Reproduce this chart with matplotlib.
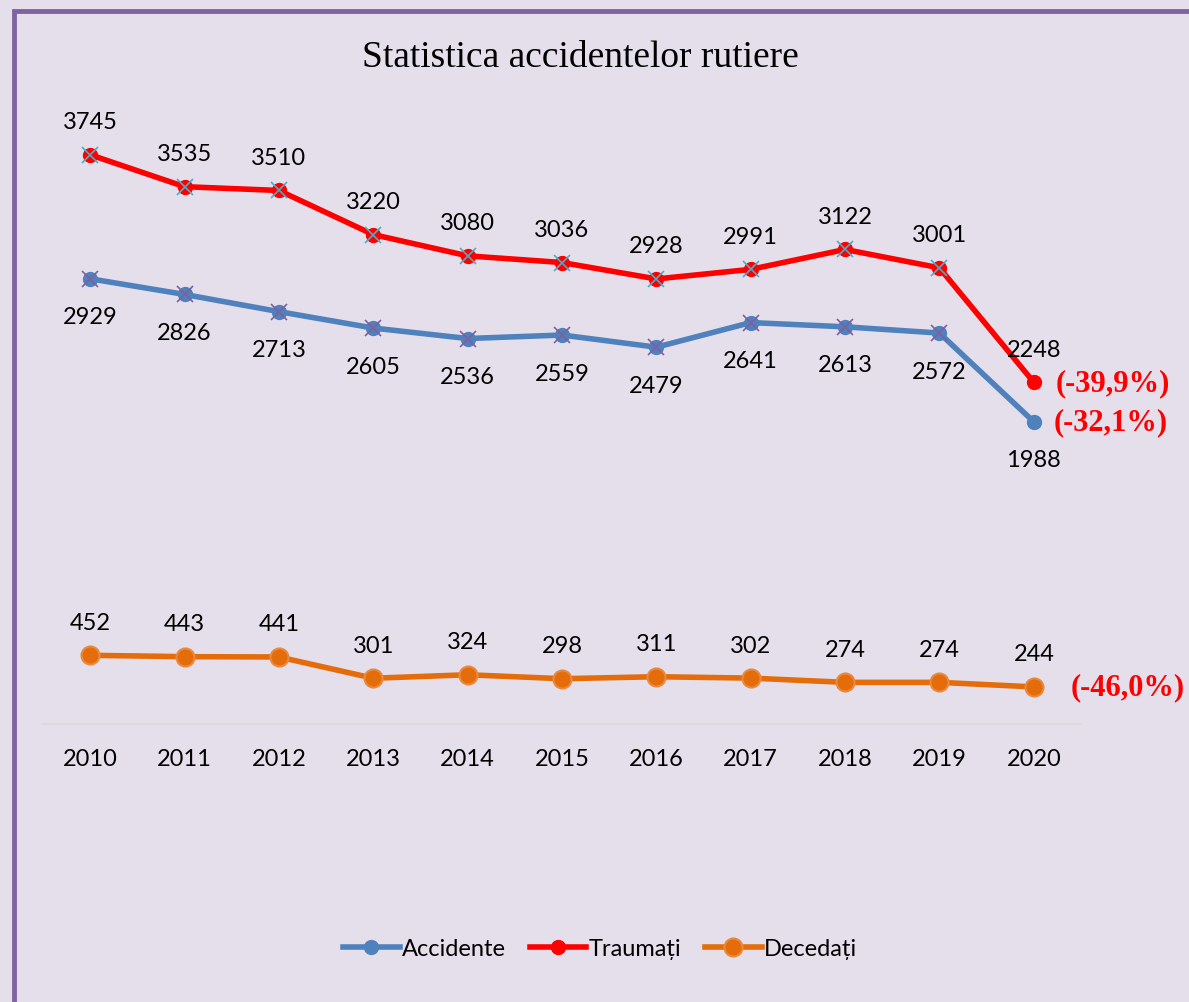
import matplotlib.pyplot as plt
from matplotlib.patches import Rectangle

plt.rcParams["font.family"] = ["Lato", "DejaVu Sans"]

years = ["2010", "2011", "2012", "2013", "2014", "2015", "2016", "2017", "2018", "2019", "2020"]
accidente = [2929, 2826, 2713, 2605, 2536, 2559, 2479, 2641, 2613, 2572, 1988]
traumati = [3745, 3535, 3510, 3220, 3080, 3036, 2928, 2991, 3122, 3001, 2248]
decedati = [452, 443, 441, 301, 324, 298, 311, 302, 274, 274, 244]
changes = {"Accidente": "(-32,1%)", "Traumați": "(-39,9%)", "Decedați": "(-46,0%)"}

BG = "#E5DFEC"
BLUE = "#4F81BD"
RED = "#FF0000"
ORANGE = "#E46C0A"

W, H = 1189, 1003
fig = plt.figure(figsize=(W / 100, H / 100), dpi=100, facecolor=BG)
ax = fig.add_axes([43 / W, 1 - 725 / H, (1081 - 43) / W, (725 - 117) / H])
ax.set_facecolor(BG)

x = list(range(len(years)))

la, = ax.plot(x, accidente, color=BLUE, lw=4, marker="o", ms=10, zorder=3, label="Accidente")
ax.plot(x[:-1], accidente[:-1], ls="none", marker="x", ms=12, mew=1.2, color="#7F5FA0", zorder=4)
lt, = ax.plot(x, traumati, color=RED, lw=4, marker="o", ms=10, zorder=3, label="Traumați")
ax.plot(x[:-1], traumati[:-1], ls="none", marker="x", ms=12, mew=1.2, color="#4BACC6", zorder=4)
ld, = ax.plot(x, decedati, color=ORANGE, lw=4, marker="o", ms=13, mec="#EA8A3E", mew=1.5,
              zorder=3, label="Decedați")
# last point of Decedati is drawn smaller in the source
ax.plot(x[-1], decedati[-1], ls="none", marker="o", ms=10, color=ORANGE, zorder=4)

lab = dict(fontsize=17, ha="center", va="center", textcoords="offset pixels", color="black")
for i in x:
    ax.annotate(str(traumati[i]), (i, traumati[i]), xytext=(0, 33), **lab)
    ax.annotate(str(accidente[i]), (i, accidente[i]), xytext=(0, -38), **lab)
    ax.annotate(str(decedati[i]), (i, decedati[i]), xytext=(0, 33), **lab)

pct = dict(fontsize=22, fontweight="bold", family="Liberation Serif", color=RED,
           ha="left", va="center", textcoords="offset pixels", annotation_clip=False)
ax.annotate(changes["Traumați"], (x[-1], traumati[-1]), xytext=(22, 0), **pct)
ax.annotate(changes["Accidente"], (x[-1], accidente[-1]), xytext=(20, 0), **pct)
ax.annotate(changes["Decedați"], (x[-1], decedati[-1]), xytext=(37, 0), **pct)

ax.set_xlim(-0.5, len(years) - 0.5)
ax.set_ylim(0, 4000)
ax.set_xticks(x)
ax.set_xticklabels(years, fontsize=17)
ax.set_yticks([])
ax.tick_params(axis="x", length=0, pad=17)
for s in ["top", "right", "left"]:
    ax.spines[s].set_visible(False)
ax.spines["bottom"].set_color("#D9D9D9")
ax.spines["bottom"].set_linewidth(1.2)

fig.text(580 / W, 1 - 58 / H, "Statistica accidentelor rutiere", family="Liberation Serif",
         fontsize=27, ha="center", va="center")

fig.legend(handles=[la, lt, ld], loc="center", bbox_to_anchor=(600 / W, 1 - 950 / H),
           ncol=3, frameon=False, fontsize=17, handlelength=2.4, columnspacing=1.0,
           handletextpad=0.1)

fig.patches.append(Rectangle((14 / W, -0.05), 1.1, 1 - 12 / H + 0.05, transform=fig.transFigure,
                             fill=False, edgecolor="#8064A2", linewidth=3.5))

fig.savefig("out.png", dpi=100, facecolor=BG)
